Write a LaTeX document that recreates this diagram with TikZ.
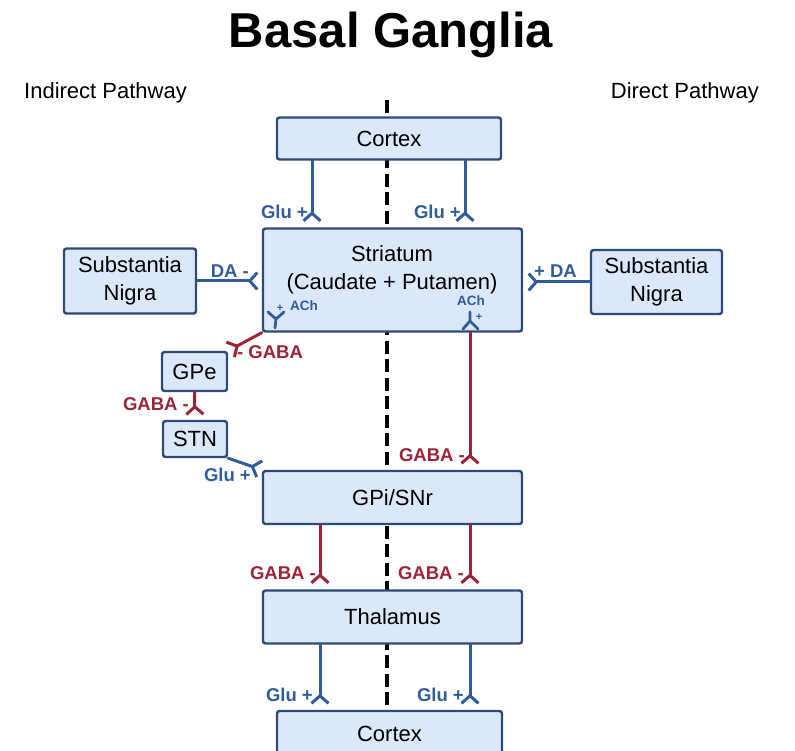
\documentclass[tikz,border=0pt]{standalone}
\usepackage{fontspec}
\setmainfont{Liberation Sans}
\usepackage{tikz}
\usetikzlibrary{arrows.meta}
\usepackage{xcolor}
\definecolor{boxfill}{HTML}{DBE8FA}
\definecolor{boxline}{HTML}{2E4A78}
\definecolor{glublue}{HTML}{2F5C9C}
\definecolor{gabared}{HTML}{9C2436}

\begin{document}
\begin{tikzpicture}[x=1pt,y=-1pt,>={Straight Barb[reversed,length=7.5pt,width=17pt,line width=3pt]},line cap=round,
  box/.style={draw=boxline,fill=boxfill,line width=2.4pt,rounded corners=2.5pt,inner sep=0pt,
    align=center,font=\fontsize{22}{28}\selectfont},
  glu/.style={->,draw=glublue,line width=3pt},
  gaba/.style={->,draw=gabared,line width=3pt},
  glulbl/.style={text=glublue,inner sep=0pt,font=\fontsize{18.5}{20}\selectfont\bfseries},
  gabalbl/.style={text=gabared,inner sep=0pt,font=\fontsize{18.5}{20}\selectfont\bfseries},
  achlbl/.style={text=glublue,inner sep=0pt,font=\fontsize{13.5}{15}\selectfont\bfseries},
  pluslbl/.style={text=glublue,inner sep=0pt,font=\fontsize{11}{12}\selectfont\bfseries}]
\useasboundingbox (0,0) rectangle (795,751);
\clip (0,0) rectangle (795,751);
\node[inner sep=0pt,font=\fontsize{49}{55}\selectfont\bfseries,anchor=base] (title) at (391,48) {Basal Ganglia};
\node[inner sep=0pt,font=\fontsize{22}{26}\selectfont,anchor=base west] (indirect) at (24,99) {Indirect Pathway};
\node[inner sep=0pt,font=\fontsize{22}{26}\selectfont,anchor=base east] (direct) at (759,99) {Direct Pathway};
\coordinate (midtop) at (387,100);
\coordinate (midbot) at (387,711);
\draw[line width=4pt,line cap=butt,dash pattern=on 13pt off 5.5pt] (midtop) -- (midbot);
\coordinate (xa) at (312,0);
\coordinate (xb) at (465,0);
\coordinate (xc) at (320,0);
\coordinate (xd) at (470,0);
\node[box,minimum width=224pt,minimum height=42pt] (ctxtop) at (389,138.5) {Cortex};
\node[box,minimum width=259pt,minimum height=103pt] (str) at (392.5,280) {};
\node[inner sep=0pt,align=center,font=\fontsize{22}{28}\selectfont] (strtxt) at (392,270) {Striatum\\(Caudate + Putamen)};
\node[box,minimum width=132pt,minimum height=65pt] (snl) at (130,281) {Substantia\\Nigra};
\node[box,minimum width=131pt,minimum height=64pt] (snr) at (656.5,282) {Substantia\\Nigra};
\node[box,minimum width=65pt,minimum height=39pt] (gpe) at (194.5,371.5) {GPe};
\node[box,minimum width=64pt,minimum height=36pt] (stn) at (195,439) {STN};
\node[box,minimum width=259pt,minimum height=53pt] (gpi) at (392.5,497.5) {GPi/SNr};
\node[box,minimum width=259pt,minimum height=53pt] (thal) at (392.5,617) {Thalamus};
\node[box,minimum width=225pt,minimum height=46pt] (ctxbot) at (389.5,734) {Cortex};
\draw[glu,shorten >=5pt] (ctxtop.south -| xa) -- (str.north -| xa);
\node[glulbl,anchor=east] (glu1) at (308,212) {Glu +};
\draw[glu,shorten >=5pt] (ctxtop.south -| xb) -- (str.north -| xb);
\node[glulbl,anchor=east] (glu2) at (461,212) {Glu +};
\draw[glu,shorten >=3pt] (snl.east) -- (snl.east -| str.west);
\node[glulbl,anchor=east] (dal) at (249,271) {DA -};
\draw[glu,shorten >=4pt] (snr.west) -- (snr.west -| str.east);
\node[glulbl,anchor=west] (dar) at (534,271) {+ DA};
\draw[glublue,line width=2.8pt] (268,312) -- (276,319) -- (284,312) (276,319) -- (275,328);
\node[pluslbl] (plusl) at (280,308) {+};
\node[achlbl] (achl) at (304,306) {ACh};
\draw[glublue,line width=2.8pt] (470,312) -- (470,321) (463,329) -- (470,321) -- (478,329);
\node[pluslbl] (plusr) at (479,317) {+};
\node[achlbl] (achr) at (471,301) {ACh};
\draw[gaba,shorten >=1pt] (str.south west) -- (gpe.north east);
\node[gabalbl,anchor=west] (gaba1) at (237,352) {- GABA};
\draw[gaba,shorten >=4pt] (gpe.south) -- (stn.north);
\node[gabalbl,anchor=east] (gaba2) at (189,404) {GABA -};
\draw[glu,shorten >=1pt] (stn.south east) -- (gpi.north west);
\node[glulbl,anchor=east] (glu3) at (251,475) {Glu +};
\draw[gaba,shorten >=5pt] (str.south -| xd) -- (gpi.north -| xd);
\node[gabalbl,anchor=east] (gaba3) at (465,455) {GABA -};
\draw[gaba,shorten >=5pt] (gpi.south -| xc) -- (thal.north -| xc);
\node[gabalbl,anchor=east] (gaba4) at (316,573) {GABA -};
\draw[gaba,shorten >=5pt] (gpi.south -| xd) -- (thal.north -| xd);
\node[gabalbl,anchor=east] (gaba5) at (464,573) {GABA -};
\draw[glu,shorten >=5pt] (thal.south -| xc) -- (ctxbot.north -| xc);
\node[glulbl,anchor=east] (glu4) at (313,695) {Glu +};
\draw[glu,shorten >=5pt] (thal.south -| xd) -- (ctxbot.north -| xd);
\node[glulbl,anchor=east] (glu5) at (464,695) {Glu +};
\end{tikzpicture}
\end{document}
